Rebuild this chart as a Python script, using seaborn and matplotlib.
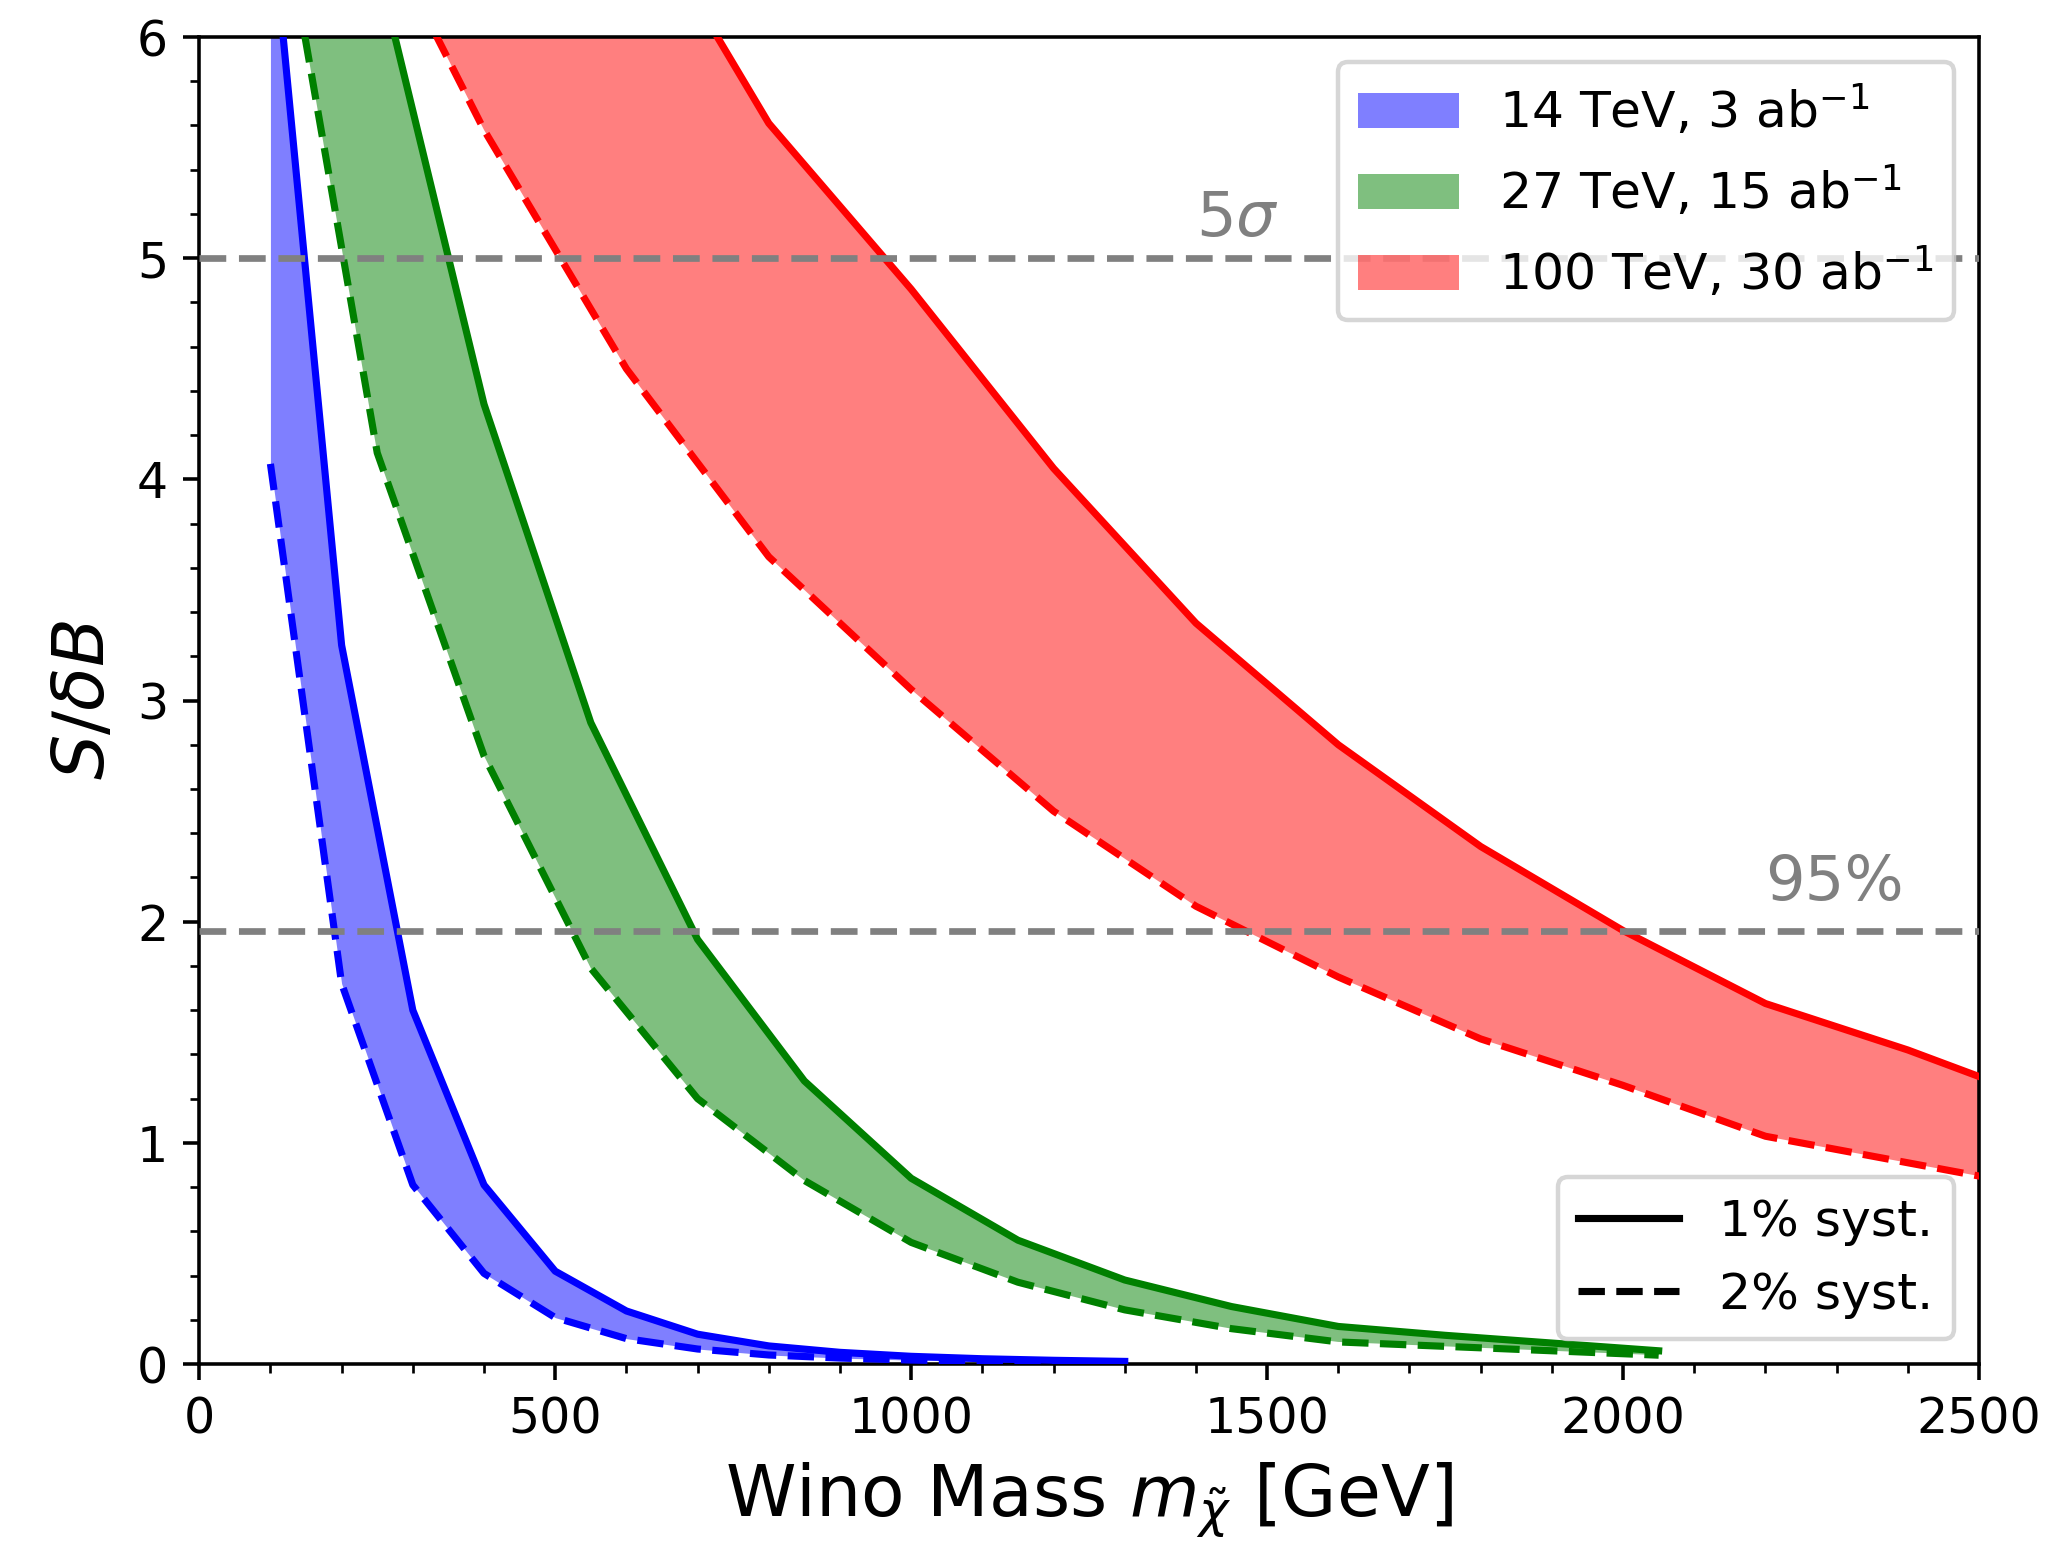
import numpy as np
import pandas as pd
import matplotlib
matplotlib.use("Agg")
import matplotlib.pyplot as plt
import seaborn as sns
from matplotlib.lines import Line2D
from matplotlib.ticker import MultipleLocator

# ---- data ----
blue_mass = [100, 200, 300, 400, 500, 600, 700, 800, 900, 1000, 1100, 1200, 1300]
blue_1pct = [6.6, 3.25, 1.60, 0.81, 0.42, 0.24, 0.135, 0.082, 0.053, 0.035, 0.024, 0.017, 0.012]
blue_2pct = [4.07, 1.72, 0.81, 0.41, 0.21, 0.115, 0.068, 0.041, 0.027, 0.018, 0.012, 0.008, 0.006]

green_mass = [100, 250, 400, 550, 700, 850, 1000, 1150, 1300, 1450, 1600, 1750, 1900, 2050]
green_1pct = [10.2, 6.33, 4.34, 2.90, 1.92, 1.28, 0.84, 0.56, 0.38, 0.26, 0.17, 0.13, 0.095, 0.06]
green_2pct = [6.9, 4.12, 2.75, 1.79, 1.20, 0.83, 0.55, 0.37, 0.245, 0.16, 0.10, 0.08, 0.06, 0.04]

red_mass = [200, 400, 600, 800, 1000, 1200, 1400, 1600, 1800, 2000, 2200, 2400, 2600]
red_1pct = [11.0, 8.6, 6.69, 5.61, 4.86, 4.05, 3.35, 2.80, 2.34, 1.96, 1.63, 1.42, 1.18]
red_2pct = [6.85, 5.58, 4.50, 3.65, 3.05, 2.50, 2.07, 1.75, 1.47, 1.26, 1.03, 0.91, 0.79]

series_labels = ["14 TeV, 3 ab$^{-1}$", "27 TeV, 15 ab$^{-1}$", "100 TeV, 30 ab$^{-1}$"]
series_colors = ["blue", "green", "red"]
syst_labels = ["1% syst.", "2% syst."]

five_sigma = 5.0
cl95 = 1.96

# ---- figure ----
dpi = 321
fig = plt.figure(figsize=(2054 / dpi, 1542 / dpi), dpi=dpi)
ax = fig.add_axes([0.097, 0.1154, 0.8665, 0.8606])

sets = [
    (blue_mass, blue_1pct, blue_2pct),
    (green_mass, green_1pct, green_2pct),
    (red_mass, red_1pct, red_2pct),
]

fills = []
for (m, s1, s2), lab, col in zip(sets, series_labels, series_colors):
    df = pd.DataFrame({"mass": m, "s1": s1, "s2": s2})
    f = ax.fill_between(df["mass"], df["s2"], df["s1"], color=col, alpha=0.5,
                        lw=0, label=lab)
    fills.append(f)
    sns.lineplot(data=df, x="mass", y="s1", color=col, lw=1.6, ax=ax,
                 legend=False, zorder=3)
    sns.lineplot(data=df, x="mass", y="s2", color=col, lw=1.6, ax=ax,
                 linestyle="--", legend=False, zorder=3)

ax.axhline(five_sigma, color="gray", lw=1.5, dashes=(4.0, 1.9), zorder=4)
ax.axhline(cl95, color="gray", lw=1.5, dashes=(4.0, 1.9), zorder=4)
ax.text(1400, 5.1, r"$5\sigma$", color="gray", fontsize=14)
ax.text(2200, 2.1, "95%", color="gray", fontsize=14)

ax.set_xlim(0, 2500)
ax.set_ylim(0, 6)
ax.xaxis.set_major_locator(MultipleLocator(500))
ax.xaxis.set_minor_locator(MultipleLocator(100))
ax.yaxis.set_major_locator(MultipleLocator(1))
ax.yaxis.set_minor_locator(MultipleLocator(0.2))
ax.tick_params(labelsize=11)
ax.set_xlabel(r"Wino Mass $m_{\tilde{\chi}}$ [GeV]", fontsize=16)
ax.set_ylabel(r"$S/\delta B$", fontsize=16)

leg1 = ax.legend(handles=fills, labels=series_labels, loc="upper right", fontsize=11.3)
ax.add_artist(leg1)
line_handles = [Line2D([0], [0], color="black", lw=1.6, linestyle="-"),
                Line2D([0], [0], color="black", lw=1.6, linestyle="--")]
ax.legend(handles=line_handles, labels=syst_labels, loc="lower right", fontsize=11.3)

fig.savefig("out.png", dpi=dpi)
